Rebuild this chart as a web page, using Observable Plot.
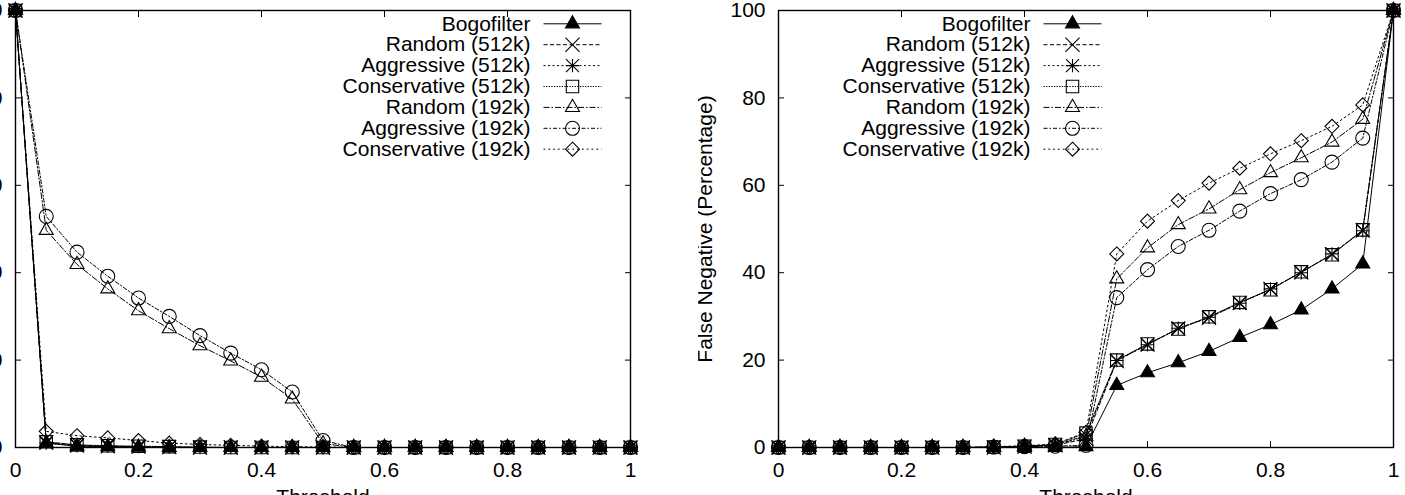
<!DOCTYPE html>
<html><head><meta charset="utf-8">
<script src="https://cdn.jsdelivr.net/npm/d3@7"></script>
<script src="https://cdn.jsdelivr.net/npm/@observablehq/plot@0.6"></script>
<style>
html,body{margin:0;padding:0;width:1405px;height:495px;overflow:hidden;background:#fff;}
#wrap{position:relative;width:1405px;height:495px;overflow:hidden;}
#wrap svg{position:absolute;top:0;max-width:none;}
</style></head><body><div id="wrap"></div>
<script>
// ---------- data ----------
const thresholds = [0,0.05,0.1,0.15,0.2,0.25,0.3,0.35,0.4,0.45,0.5,0.55,0.6,0.65,0.7,0.75,0.8,0.85,0.9,0.95,1];
const seriesNames = ["Bogofilter","Random (512k)","Aggressive (512k)","Conservative (512k)","Random (192k)","Aggressive (192k)","Conservative (192k)"];

// left panel: false positive (%)
const fpBogofilter      = [100,1.0,0.3,0.2,0.1,0,0,0,0,0,0,0,0,0,0,0,0,0,0,0,0];
const fpRandom512       = [100,1.2,0.5,0.3,0.2,0.1,0,0,0,0,0,0,0,0,0,0,0,0,0,0,0];
const fpAggressive512   = [100,1.0,0.4,0.3,0.2,0.1,0,0,0,0,0,0,0,0,0,0,0,0,0,0,0];
const fpConservative512 = [100,1.3,0.6,0.4,0.3,0.2,0.1,0,0,0,0,0,0,0,0,0,0,0,0,0,0];
const fpRandom192       = [100,49.7,41.9,36.3,31.3,27.2,23.3,19.8,16.1,11.1,0.9,0,0,0,0,0,0,0,0,0,0];
const fpAggressive192   = [100,52.9,44.7,39.2,34.2,30.0,25.6,21.6,17.8,12.7,1.6,0,0,0,0,0,0,0,0,0,0];
const fpConservative192 = [100,3.7,2.7,2.2,1.6,1.0,0.7,0.5,0.3,0.2,0.1,0,0,0,0,0,0,0,0,0,0];

// right panel: false negative (%)
const fnBogofilter      = [0,0,0,0,0,0,0,0,0,0,0.2,14.2,17.1,19.4,22.0,25.2,28.1,31.5,36.3,42.0,100];
const fnRandom512       = [0,0,0,0,0,0,0,0,0.2,0.5,2.0,19.8,23.6,27.2,29.7,33.1,36.2,40.1,44.2,49.7,100];
const fnAggressive512   = [0,0,0,0,0,0,0,0,0.2,0.6,2.8,19.9,23.5,27.3,29.8,33.0,36.3,40.0,44.3,49.6,100];
const fnConservative512 = [0,0,0,0,0,0,0,0.1,0.3,0.7,3.3,20.0,23.7,27.1,29.9,33.2,36.1,40.2,44.1,49.8,100];
const fnRandom192       = [0,0,0,0,0,0,0,0.1,0.3,0.6,2.5,38.6,45.7,51.0,54.6,59.0,62.9,66.3,69.9,75.1,100];
const fnAggressive192   = [0,0,0,0,0,0,0,0.1,0.2,0.3,0.5,34.3,40.7,46.0,49.7,54.1,58.1,61.3,65.3,70.8,100];
const fnConservative192 = [0,0,0,0,0,0,0,0.2,0.4,0.8,3.5,44.3,51.8,56.5,60.5,63.9,67.2,70.2,73.5,78.4,100];

const xTicks = [0,0.2,0.4,0.6,0.8,1];
const xTickLabels = ["0","0.2","0.4","0.6","0.8","1"];
const yTicks = [0,20,40,60,80,100];
const yTickLabels = ["0","20","40","60","80","100"];
const xLabel = "Threshold";
const yLabelLeft = "False Positive (Percentage)";
const yLabelRight = "False Negative (Percentage)";

// ---------- styles ----------
const styles = [
  {dash:null,          syms:[{symbol:"triangle", r:5.2, fill:"#000"}]},
  {dash:"4,2.5",       syms:[{symbol:"times", r:6.5, fill:"none"}]},
  {dash:"2,2.5",       syms:[{symbol:"times", r:6.0, fill:"none"},{symbol:"plus", r:4.4, fill:"none"}]},
  {dash:"1.3,1.3",     syms:[{symbol:"square", r:7, fill:"none"}]},
  {dash:"6,2,1.5,2",   syms:[{symbol:"triangle", r:5.2, fill:"none"}]},
  {dash:"4,2,1.5,2",   syms:[{symbol:"circle", r:7, fill:"none"}]},
  {dash:"1.8,3",       syms:[{symbol:"diamond2", r:6.3, fill:"none"}]}
];

const FONT = "'Liberation Sans', Arial, Helvetica, sans-serif";
const PW = 615, PH = 437, ML = 80, MR = 12, MT = 10, MB = 63, H = 510;

function panel(values, yLabel, legendPx, pageLeft) {
  const xOf = px => px / PW;
  const yOf = py => 100 - py * 100 / PH;
  const marks = [Plot.frame({stroke:"#000", strokeWidth:1.4})];
  marks.push(Plot.axisX({ticks:xTicks, tickFormat:d => xTickLabels[xTicks.indexOf(d)], tickSize:-6, tickPadding:21, label:null, fontSize:21}));
  marks.push(Plot.axisX({anchor:"top", ticks:xTicks, tickFormat:() => "", tickSize:-6, label:null}));
  marks.push(Plot.axisY({ticks:yTicks, tickFormat:d => yTickLabels[yTicks.indexOf(d)], tickSize:-6, tickPadding:19, label:null, fontSize:21}));
  marks.push(Plot.axisY({anchor:"right", ticks:yTicks, tickFormat:() => "", tickSize:-6, label:null}));
  marks.push(Plot.text([xLabel], {frameAnchor:"bottom", dy:50, lineAnchor:"middle", textAnchor:"middle", fontSize:21}));
  marks.push(Plot.text([yLabel], {frameAnchor:"left", dx:-73, rotate:-90, textAnchor:"middle", lineAnchor:"middle", fontSize:21}));
  seriesNames.forEach((name, i) => {
    const st = styles[i];
    const pts = thresholds.map((t, j) => ({x:t, y:values[i][j]}));
    marks.push(Plot.line(pts, {x:"x", y:"y", stroke:"#000", strokeWidth:1, strokeDasharray:st.dash}));
    st.syms.forEach(s => marks.push(Plot.dot(pts, {x:"x", y:"y", symbol:() => s.symbol, r:s.r, fill:s.fill, stroke:"#000", strokeWidth:1.1})));
    // legend row
    const rowY = yOf(13.3 + i * 20.9);
    const tx = xOf(legendPx);
    marks.push(Plot.text([name], {x:() => tx, y:() => rowY, textAnchor:"end", fontSize:21}));
    marks.push(Plot.link([0], {x1:() => xOf(legendPx + 13), x2:() => xOf(legendPx + 71), y1:() => rowY, y2:() => rowY, stroke:"#000", strokeWidth:1, strokeDasharray:st.dash}));
    st.syms.forEach(s => marks.push(Plot.dot([0], {x:() => xOf(legendPx + 42), y:() => rowY, symbol:() => s.symbol, r:s.r, fill:s.fill, stroke:"#000", strokeWidth:1.1})));
  });
  const svg = Plot.plot({
    width: ML + PW + MR, height: H,
    marginLeft: ML, marginRight: MR, marginTop: MT, marginBottom: MB,
    x: {domain:[0,1], label:null},
    y: {domain:[0,100], label:null},
    symbol: {type:"identity"},
    style: {fontFamily:FONT, fontSize:"21px", color:"#000", background:"transparent", maxWidth:"none"},
    marks
  });
  svg.style.left = (pageLeft - ML) + "px";
  document.getElementById("wrap").appendChild(svg);
}

panel([fpBogofilter, fpRandom512, fpAggressive512, fpConservative512, fpRandom192, fpAggressive192, fpConservative192], yLabelLeft, 515, 15);
panel([fnBogofilter, fnRandom512, fnAggressive512, fnConservative512, fnRandom192, fnAggressive192, fnConservative192], yLabelRight, 252, 778);
</script></body></html>
